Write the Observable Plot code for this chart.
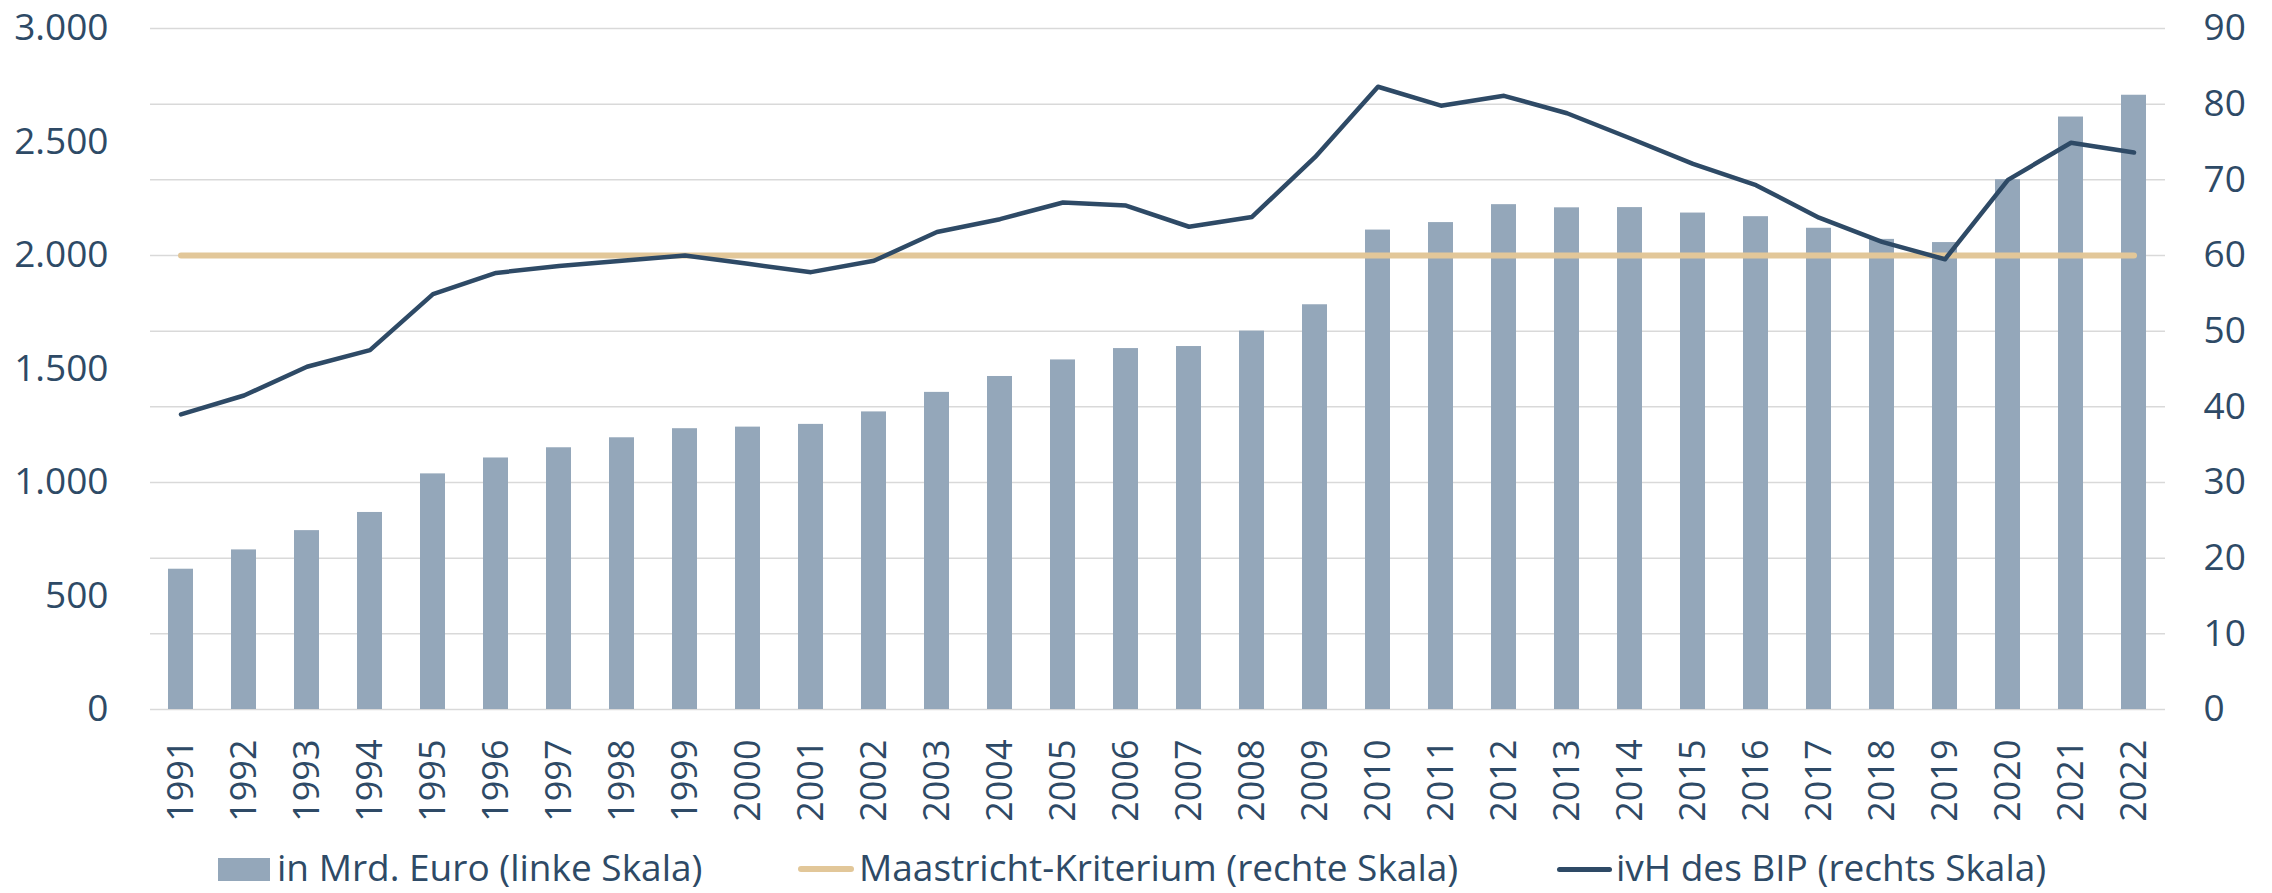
<!DOCTYPE html>
<html>
<head>
<meta charset="utf-8">
<script src="https://cdn.jsdelivr.net/npm/d3@7"></script>
<script src="https://cdn.jsdelivr.net/npm/@observablehq/plot@0.6"></script>
<style>
  body { margin: 0; background: #ffffff; }
  #wrap { position: relative; width: 2272px; height: 893px; font-family: "Open Sans", sans-serif; color: #2E4A66; overflow: hidden; }
  #chart svg { position: absolute; left: 0; top: 0; }
  .lg-text { position: absolute; font-size: 37px; line-height: 1; white-space: nowrap; }
</style>
</head>
<body>
<div id="wrap">
  <div id="chart"></div>
  <div id="legend"></div>
</div>
<script>
// ---- data ----
const years = ["1991","1992","1993","1994","1995","1996","1997","1998","1999","2000",
               "2001","2002","2003","2004","2005","2006","2007","2008","2009","2010",
               "2011","2012","2013","2014","2015","2016","2017","2018","2019","2020",
               "2021","2022"];
// Schulden in Mrd. Euro (linke Skala)
const debtBn = [618, 703, 788, 868, 1038, 1108, 1153, 1197, 1237, 1244,
                1256, 1311, 1397, 1467, 1540, 1590, 1599, 1667, 1783, 2112,
                2145, 2224, 2210, 2211, 2187, 2171, 2120, 2071, 2057, 2334,
                2610, 2706];
// Schuldenquote in % des BIP (rechte Skala)
const debtPct = [39.0, 41.5, 45.3, 47.5, 54.9, 57.7, 58.6, 59.3, 60.0, 58.9,
                 57.8, 59.3, 63.1, 64.8, 67.0, 66.6, 63.8, 65.1, 73.0, 82.3,
                 79.8, 81.1, 78.8, 75.5, 72.1, 69.3, 65.0, 61.8, 59.5, 70.0,
                 74.9, 73.6];
const maastricht = 60;
const leftTicks = [0, 500, 1000, 1500, 2000, 2500, 3000];
const rightTicks = [0, 10, 20, 30, 40, 50, 60, 70, 80, 90];
const legendLabels = ["in Mrd. Euro (linke Skala)", "Maastricht-Kriterium (rechte Skala)", "ivH des BIP (rechts Skala)"];

// ---- styles ----
const colBar = "#94A7BA", colMaas = "#E2C799", colLine = "#2E4A66", colText = "#2E4A66", colGrid = "#D9D9D9";
const leftMax = 3000, rightMax = 90;
const K = leftMax / rightMax; // maps right-scale values onto the left scale

const rows = years.map((y, i) => ({year: y, bn: debtBn[i], pct: debtPct[i]}));
const de = d3.formatLocale({decimal: ",", thousands: ".", grouping: [3], currency: ["", "€"]}).format(",");

const chart = Plot.plot({
  width: 2272,
  height: 850,
  marginLeft: 150,
  marginRight: 107,
  marginTop: 28,
  marginBottom: 141,
  style: {fontFamily: '"Open Sans", sans-serif', color: colText, background: "#ffffff", overflow: "visible"},
  x: {type: "band", domain: years, paddingInner: 0.6, paddingOuter: 0.29, align: 0.5},
  y: {domain: [0, leftMax]},
  marks: [
    Plot.gridY(rightTicks.map(v => v * K), {stroke: colGrid, strokeOpacity: 1, strokeWidth: 1.5}),
    Plot.barY(rows, {x: "year", y: "bn", fill: colBar}),
    Plot.line(rows, {x: "year", y: () => maastricht * K, stroke: colMaas, strokeWidth: 6, strokeLinecap: "round"}),
    Plot.line(rows, {x: "year", y: d => d.pct * K, stroke: colLine, strokeWidth: 4.5, strokeLinejoin: "round", strokeLinecap: "round"}),
    Plot.axisY(leftTicks, {anchor: "left", tickSize: 0, tickPadding: 42, tickFormat: de, fontSize: 37, label: null}),
    Plot.axisY(rightTicks.map(v => v * K), {anchor: "right", tickSize: 0, tickPadding: 38, tickFormat: d => String(Math.round(d / K)), fontSize: 37, label: null}),
    Plot.axisX({tickSize: 0, tickPadding: 30, tickRotate: -90, fontSize: 36, label: null})
  ]
});
document.getElementById("chart").appendChild(chart);

// ---- legend (below the SVG) ----
const lg = document.getElementById("legend");
function add(el, css) { Object.assign(el.style, css); lg.appendChild(el); return el; }
add(document.createElement("div"), {position: "absolute", left: "218px", top: "858px", width: "52px", height: "23px", background: colBar});
add(document.createElement("div"), {position: "absolute", left: "798px", top: "866px", width: "56px", height: "6px", borderRadius: "3px", background: colMaas});
add(document.createElement("div"), {position: "absolute", left: "1557px", top: "866.5px", width: "55px", height: "5px", borderRadius: "2.5px", background: colLine});
const textX = [277, 859, 1616];
legendLabels.forEach((t, i) => {
  const s = document.createElement("div");
  s.className = "lg-text";
  s.textContent = t;
  s.style.left = textX[i] + "px";
  s.style.top = "848px";
  lg.appendChild(s);
});
</script>
</body>
</html>
